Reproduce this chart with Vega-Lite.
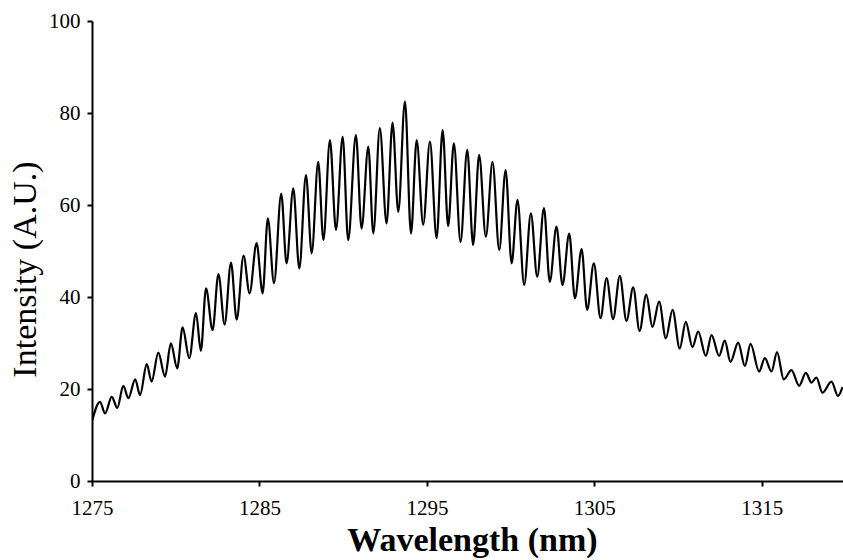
{
  "$schema": "https://vega.github.io/schema/vega-lite/v6.json",
  "width": 751,
  "height": 460,
  "autosize": "none",
  "padding": {"left": 92, "top": 21, "right": 0, "bottom": 79},
  "background": "white",
  "config": {"view": {"stroke": null}},
  "data": {"values": [
    {"w": 1275.0, "i": 13.0}, {"w": 1275.48, "i": 17.2}, {"w": 1275.78, "i": 14.7}, {"w": 1276.18, "i": 18.3},
    {"w": 1276.51, "i": 15.9}, {"w": 1276.87, "i": 20.7}, {"w": 1277.17, "i": 18.0}, {"w": 1277.58, "i": 22.1},
    {"w": 1277.87, "i": 18.7}, {"w": 1278.27, "i": 25.4}, {"w": 1278.56, "i": 21.6}, {"w": 1278.96, "i": 27.9},
    {"w": 1279.36, "i": 22.7}, {"w": 1279.71, "i": 29.9}, {"w": 1280.09, "i": 24.5}, {"w": 1280.41, "i": 33.4},
    {"w": 1280.81, "i": 26.7}, {"w": 1281.21, "i": 36.5}, {"w": 1281.5, "i": 28.3}, {"w": 1281.81, "i": 41.9},
    {"w": 1282.2, "i": 32.8}, {"w": 1282.55, "i": 45.0}, {"w": 1282.92, "i": 34.0}, {"w": 1283.3, "i": 47.5},
    {"w": 1283.64, "i": 35.1}, {"w": 1284.05, "i": 49.0}, {"w": 1284.41, "i": 40.8}, {"w": 1284.83, "i": 51.7},
    {"w": 1285.19, "i": 40.8}, {"w": 1285.5, "i": 57.1}, {"w": 1285.87, "i": 43.0}, {"w": 1286.3, "i": 62.5},
    {"w": 1286.62, "i": 47.3}, {"w": 1287.02, "i": 63.6}, {"w": 1287.38, "i": 46.2}, {"w": 1287.78, "i": 66.5},
    {"w": 1288.12, "i": 49.5}, {"w": 1288.51, "i": 69.4}, {"w": 1288.82, "i": 52.4}, {"w": 1289.21, "i": 74.1},
    {"w": 1289.57, "i": 54.6}, {"w": 1289.97, "i": 74.8}, {"w": 1290.3, "i": 52.4}, {"w": 1290.76, "i": 75.2},
    {"w": 1291.1, "i": 54.9}, {"w": 1291.5, "i": 72.7}, {"w": 1291.8, "i": 53.8}, {"w": 1292.19, "i": 76.7},
    {"w": 1292.59, "i": 56.0}, {"w": 1292.95, "i": 77.9}, {"w": 1293.29, "i": 58.5}, {"w": 1293.69, "i": 82.5},
    {"w": 1294.05, "i": 53.8}, {"w": 1294.39, "i": 74.1}, {"w": 1294.78, "i": 55.7}, {"w": 1295.18, "i": 73.8},
    {"w": 1295.58, "i": 52.8}, {"w": 1295.94, "i": 76.3}, {"w": 1296.27, "i": 55.4}, {"w": 1296.61, "i": 73.4},
    {"w": 1297.01, "i": 52.0}, {"w": 1297.41, "i": 72.0}, {"w": 1297.76, "i": 51.3}, {"w": 1298.12, "i": 70.9},
    {"w": 1298.52, "i": 53.1}, {"w": 1298.92, "i": 69.4}, {"w": 1299.32, "i": 50.2}, {"w": 1299.7, "i": 67.6},
    {"w": 1300.06, "i": 47.3}, {"w": 1300.41, "i": 61.1}, {"w": 1300.81, "i": 42.6}, {"w": 1301.21, "i": 58.2},
    {"w": 1301.59, "i": 44.4}, {"w": 1301.99, "i": 59.3}, {"w": 1302.34, "i": 43.3}, {"w": 1302.74, "i": 55.3},
    {"w": 1303.1, "i": 42.6}, {"w": 1303.5, "i": 53.8}, {"w": 1303.84, "i": 39.7}, {"w": 1304.24, "i": 50.4},
    {"w": 1304.57, "i": 37.2}, {"w": 1304.97, "i": 47.3}, {"w": 1305.37, "i": 35.4}, {"w": 1305.73, "i": 44.1},
    {"w": 1306.12, "i": 35.2}, {"w": 1306.52, "i": 44.6}, {"w": 1306.92, "i": 34.8}, {"w": 1307.32, "i": 42.1},
    {"w": 1307.7, "i": 32.6}, {"w": 1308.1, "i": 40.5}, {"w": 1308.47, "i": 33.5}, {"w": 1308.87, "i": 39.0},
    {"w": 1309.27, "i": 31.0}, {"w": 1309.67, "i": 37.2}, {"w": 1310.1, "i": 28.8}, {"w": 1310.46, "i": 34.6},
    {"w": 1310.86, "i": 29.1}, {"w": 1311.2, "i": 32.5}, {"w": 1311.66, "i": 27.2}, {"w": 1312.0, "i": 31.7},
    {"w": 1312.45, "i": 27.2}, {"w": 1312.79, "i": 30.5}, {"w": 1313.13, "i": 25.9}, {"w": 1313.59, "i": 30.1},
    {"w": 1313.99, "i": 25.0}, {"w": 1314.33, "i": 29.8}, {"w": 1314.84, "i": 23.8}, {"w": 1315.18, "i": 26.7},
    {"w": 1315.58, "i": 23.8}, {"w": 1315.91, "i": 28.0}, {"w": 1316.31, "i": 22.1}, {"w": 1316.77, "i": 24.1},
    {"w": 1317.23, "i": 20.7}, {"w": 1317.63, "i": 23.5}, {"w": 1317.97, "i": 21.4}, {"w": 1318.26, "i": 22.5},
    {"w": 1318.62, "i": 19.2}, {"w": 1319.16, "i": 21.6}, {"w": 1319.55, "i": 18.5}, {"w": 1319.82, "i": 20.4}
  ]},
  "mark": {"type": "line", "color": "black", "strokeWidth": 2.2, "interpolate": "monotone", "clip": true},
  "encoding": {
    "x": {
      "field": "w", "type": "quantitative",
      "scale": {"domain": [1275, 1319.85], "nice": false, "zero": false},
      "axis": {
        "values": [1275, 1285, 1295, 1305, 1315], "format": "d",
        "grid": false, "domainColor": "black", "domainWidth": 2, "tickColor": "black", "tickWidth": 2, "tickSize": 5,
        "labelFont": "Liberation Serif", "labelFontSize": 21, "labelColor": "black", "labelPadding": 11,
        "labelFlush": false, "labelOverlap": false,
        "title": "Wavelength (nm)", "titleFont": "Liberation Serif", "titleFontSize": 34, "titleFontWeight": "bold",
        "titleColor": "black", "titleX": 380, "titleY": 69, "titleAlign": "center", "titleBaseline": "alphabetic"
      }
    },
    "y": {
      "field": "i", "type": "quantitative",
      "scale": {"domain": [0, 100], "nice": false},
      "axis": {
        "values": [0, 20, 40, 60, 80, 100],
        "grid": false, "domainColor": "black", "domainWidth": 2, "tickColor": "black", "tickWidth": 2, "tickSize": 5,
        "labelFont": "Liberation Serif", "labelFontSize": 21, "labelColor": "black", "labelPadding": 7,
        "labelFlush": false, "labelOverlap": false,
        "title": "Intensity (A.U.)", "titleFont": "Liberation Serif", "titleFontSize": 34, "titleFontWeight": "normal",
        "titleColor": "black", "titleX": -67, "titleY": 248, "titleAngle": -90, "titleAlign": "center", "titleBaseline": "middle"
      }
    }
  }
}
